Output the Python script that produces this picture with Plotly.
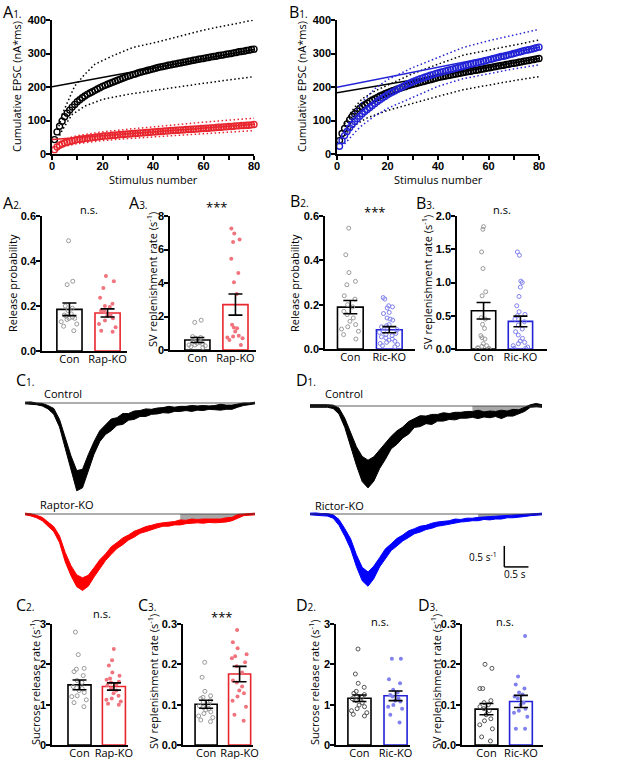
import plotly.graph_objects as go

W, H = 617, 759

# ---------------- A1 / B1 : cumulative EPSC ----------------
stim = list(range(1, 81))
fit_x = [0, 80]

a1_con = [43, 66, 83, 98, 111, 122, 131, 140, 148, 156, 162, 168, 173, 178, 182, 186, 190, 194, 198, 202,
          205, 208, 211, 214, 217, 220, 223, 226, 229, 232, 234, 237, 239, 242, 244, 246, 248, 250, 252, 254,
          256, 258, 260, 261, 263, 265, 266, 268, 269, 271, 272, 274, 275, 277, 278, 280, 281, 283, 284, 285,
          287, 288, 290, 291, 292, 294, 295, 296, 298, 299, 300, 302, 303, 305, 306, 307, 309, 310, 312, 313]
a1_rap = [13, 21, 26, 30, 33, 35, 37, 39, 41, 43, 44, 45, 46, 47, 48, 49, 50, 51, 52, 53,
          54, 54, 55, 56, 56, 57, 58, 58, 59, 60, 60, 61, 61, 62, 63, 63, 64, 64, 65, 66,
          66, 67, 67, 68, 69, 69, 70, 70, 71, 71, 72, 72, 73, 73, 74, 74, 75, 75, 76, 76,
          77, 77, 78, 78, 79, 80, 80, 81, 81, 82, 82, 83, 84, 84, 85, 85, 86, 86, 87, 88]
a1_con_fit = [201, 312]
a1_rap_fit = [43, 89]
a1_con_hi_x = [2, 3, 4, 6, 9, 13, 17, 24, 32, 41, 48, 60, 70, 80]
a1_con_hi = [72, 88, 118, 153, 203, 238, 268, 293, 318, 333, 346, 370, 385, 400]
a1_con_lo_x = [3, 4, 6, 8, 13, 20, 30, 40, 48, 60, 70, 80]
a1_con_lo = [55, 70, 95, 118, 143, 163, 178, 190, 198, 211, 221, 231]
a1_rap_ci_x = [3, 5, 10, 20, 30, 40, 50, 60, 70, 80]
a1_rap_hi = [36, 44, 55, 66, 74, 82, 88, 95, 101, 107]
a1_rap_lo = [18, 23, 31, 40, 46, 51, 56, 61, 66, 70]

b1_con = [40, 61, 76, 90, 102, 112, 120, 128, 136, 142, 147, 152, 157, 161, 165, 169, 173, 176, 180, 183,
          186, 189, 191, 194, 196, 199, 201, 204, 206, 208, 210, 212, 214, 216, 218, 220, 222, 224, 226, 228,
          230, 231, 233, 234, 236, 237, 239, 240, 242, 243, 245, 246, 247, 249, 250, 251, 253, 254, 256, 257,
          258, 260, 261, 263, 264, 265, 267, 268, 270, 271, 272, 274, 275, 277, 278, 279, 281, 282, 284, 285]
b1_ric = [23, 40, 55, 67, 78, 88, 97, 105, 113, 120, 127, 133, 139, 145, 151, 157, 162, 167, 172, 177,
          181, 185, 189, 193, 197, 201, 205, 209, 212, 216, 219, 222, 225, 227, 230, 232, 235, 237, 240, 242,
          244, 246, 248, 250, 252, 254, 256, 258, 260, 262, 264, 266, 268, 270, 272, 273, 275, 277, 279, 281,
          283, 285, 287, 289, 291, 292, 294, 296, 298, 300, 302, 304, 306, 308, 310, 311, 313, 315, 317, 319]
b1_con_fit = [183, 285]
b1_ric_fit = [199, 319]
b1_con_hi_x = [3, 5, 7, 10, 15, 20, 30, 40, 50, 60, 70, 80]
b1_con_hi = [90, 118, 140, 165, 188, 205, 240, 268, 295, 310, 326, 340]
b1_con_lo_x = [3, 5, 8, 12, 20, 30, 40, 50, 60, 70, 80]
b1_con_lo = [55, 72, 90, 108, 130, 152, 172, 192, 206, 219, 231]
b1_ric_ci_x = [3, 5, 8, 10, 15, 20, 30, 40, 50, 60, 70, 80]
b1_ric_hi = [70, 100, 135, 155, 195, 222, 258, 288, 318, 338, 356, 372]
b1_ric_lo = [30, 48, 72, 86, 114, 136, 168, 202, 225, 240, 254, 266]

# ---------------- bar panels ----------------
a2_con = [0.49, 0.31, 0.295, 0.2, 0.19, 0.18, 0.165, 0.16, 0.155, 0.15, 0.145, 0.145, 0.14, 0.13, 0.12, 0.11, 0.09]
a2_ko = [0.333, 0.31, 0.28, 0.237, 0.21, 0.2, 0.195, 0.18, 0.175, 0.16, 0.155, 0.145, 0.135, 0.12, 0.105, 0.09, 0.085]
a2_mean = [0.185, 0.169]
a2_sem = [0.028, 0.018]

a3_con = [1.78, 1.65, 0.8, 0.75, 0.7, 0.6, 0.55, 0.5, 0.45, 0.4, 0.35, 0.3, 0.3, 0.25, 0.2, 0.15]
a3_ko = [7.25, 6.95, 6.6, 6.45, 5.45, 4.6, 4.05, 3.35, 1.5, 1.35, 1.3, 1.1, 0.85, 0.8, 0.75, 0.7, 0.6, 0.3]
a3_mean = [0.6, 2.71]
a3_sem = [0.15, 0.63]

b2_con = [0.545, 0.425, 0.345, 0.305, 0.29, 0.24, 0.225, 0.2, 0.19, 0.17, 0.155, 0.14, 0.125, 0.11, 0.1,
          0.09, 0.08, 0.065, 0.045]
b2_ko = [0.232, 0.225, 0.195, 0.19, 0.185, 0.165, 0.16, 0.14, 0.135, 0.13, 0.11, 0.105, 0.1, 0.095, 0.087,
         0.08, 0.075, 0.07, 0.065, 0.06, 0.055, 0.05, 0.045, 0.04, 0.035, 0.03, 0.025, 0.02, 0.015, 0.01]
b2_mean = [0.189, 0.087]
b2_sem = [0.03, 0.014]

b3_con = [1.84, 1.8, 1.46, 1.21, 0.86, 0.8, 0.47, 0.45, 0.37, 0.31, 0.2, 0.17, 0.15, 0.08, 0.05, 0.04, 0.02,
          0.01, 0.01, 0.0]
b3_ko = [1.46, 1.41, 1.02, 1.0, 0.93, 0.79, 0.65, 0.56, 0.52, 0.5, 0.45, 0.41, 0.36, 0.3, 0.26, 0.21, 0.16,
         0.12, 0.1, 0.08, 0.05, 0.03, 0.01, 0.01]
b3_mean = [0.575, 0.415]
b3_sem = [0.125, 0.08]

c2_con = [2.8, 2.24, 1.9, 1.88, 1.82, 1.72, 1.6, 1.55, 1.45, 1.42, 1.4, 1.35, 1.3, 1.22, 1.2, 1.12, 1.05, 0.95]
c2_ko = [2.38, 2.1, 1.97, 1.8, 1.72, 1.65, 1.62, 1.57, 1.55, 1.5, 1.48, 1.4, 1.35, 1.28, 1.22, 1.15, 1.12,
         1.08, 1.02, 1.0]
c2_mean = [1.49, 1.45]
c2_sem = [0.12, 0.09]

c3_con = [0.205, 0.168, 0.133, 0.122, 0.118, 0.115, 0.11, 0.107, 0.1, 0.097, 0.093, 0.09, 0.087, 0.082,
          0.078, 0.072, 0.068, 0.062, 0.058]
c3_ko = [0.285, 0.255, 0.24, 0.225, 0.22, 0.215, 0.205, 0.195, 0.18, 0.16, 0.155, 0.145, 0.135, 0.128,
         0.12, 0.11, 0.095, 0.075, 0.06]
c3_mean = [0.101, 0.176]
c3_sem = [0.01, 0.019]

d2_con = [2.38, 1.76, 1.53, 1.43, 1.33, 1.28, 1.25, 1.22, 1.18, 1.15, 1.1, 1.05, 0.99, 0.95, 0.9, 0.85,
          0.8, 0.76, 0.72]
d2_ko = [2.14, 2.14, 1.63, 1.53, 1.37, 1.3, 1.24, 1.2, 1.16, 1.1, 1.08, 0.99, 0.95, 0.9, 0.75, 0.56]
d2_mean = [1.16, 1.22]
d2_sem = [0.08, 0.12]

d3_con = [0.2, 0.19, 0.14, 0.14, 0.11, 0.105, 0.1, 0.095, 0.09, 0.085, 0.075, 0.065, 0.06, 0.05, 0.04,
          0.02, 0.01]
d3_ko = [0.27, 0.17, 0.15, 0.14, 0.13, 0.125, 0.12, 0.115, 0.105, 0.1, 0.09, 0.085, 0.08, 0.07, 0.04, 0.04]
d3_mean = [0.089, 0.108]
d3_sem = [0.014, 0.015]

# ---------------- sucrose traces (s^-1, depth below baseline) ----------------
t = [round(i * 0.12, 2) for i in range(41)]
cc_mean = [0, 0, 0.02, 0.04, 0.10, 0.20, 0.48, 0.95, 1.43, 1.85, 1.80, 1.43, 1.07, 0.79, 0.63, 0.52, 0.44,
           0.38, 0.33, 0.29, 0.25, 0.23, 0.21, 0.19, 0.17, 0.16, 0.15, 0.14, 0.13, 0.13, 0.12, 0.12, 0.11,
           0.11, 0.10, 0.10, 0.10, 0.06, 0.03, 0.02, 0]
cc_noise = [0.02, 0.025, 0.02, 0.03, 0.04, 0.07, 0.09, 0.13, 0.17, 0.24, 0.22, 0.20, 0.15, 0.13, 0.12, 0.14,
            0.09, 0.13, 0.08, 0.10, 0.07, 0.09, 0.06, 0.07, 0.06, 0.08, 0.05, 0.06, 0.05, 0.07, 0.05, 0.06,
            0.04, 0.05, 0.07, 0.05, 0.05, 0.04, 0.03, 0.02, 0.02]
cr_mean = [0, 0.02, 0.06, 0.12, 0.24, 0.36, 0.60, 1.03, 1.35, 1.59, 1.67, 1.59, 1.39, 1.19, 1.03, 0.87, 0.75,
           0.65, 0.56, 0.48, 0.41, 0.36, 0.32, 0.28, 0.25, 0.24, 0.22, 0.20, 0.19, 0.17, 0.17, 0.17, 0.16,
           0.16, 0.16, 0.14, 0.12, 0.05, 0.02, 0.01, 0]
cr_noise = [0.02, 0.025, 0.03, 0.04, 0.05, 0.06, 0.08, 0.11, 0.12, 0.14, 0.15, 0.13, 0.11, 0.10, 0.08, 0.09,
            0.07, 0.08, 0.06, 0.07, 0.05, 0.06, 0.05, 0.05, 0.04, 0.05, 0.04, 0.06, 0.04, 0.05, 0.04, 0.05,
            0.04, 0.05, 0.04, 0.05, 0.04, 0.04, 0.02, 0.02, 0.02]
dc_mean = [0, 0, 0, 0, 0.02, 0.12, 0.40, 0.79, 1.19, 1.50, 1.62, 1.50, 1.27, 1.07, 0.87, 0.75, 0.63, 0.52,
           0.40, 0.36, 0.33, 0.32, 0.28, 0.26, 0.25, 0.24, 0.22, 0.21, 0.20, 0.20, 0.20, 0.20, 0.19, 0.20,
           0.18, 0.16, 0.14, 0.08, 0, -0.02, 0]
dc_noise = [0.03, 0.035, 0.03, 0.03, 0.04, 0.07, 0.11, 0.18, 0.22, 0.30, 0.33, 0.29, 0.22, 0.20, 0.15, 0.16,
            0.13, 0.15, 0.11, 0.13, 0.09, 0.12, 0.08, 0.10, 0.07, 0.09, 0.07, 0.08, 0.07, 0.10, 0.06, 0.08,
            0.06, 0.10, 0.06, 0.08, 0.05, 0.05, 0.03, 0.04, 0.03]
dr_mean = [0, 0, 0.01, 0.02, 0.06, 0.20, 0.44, 0.71, 1.11, 1.43, 1.55, 1.39, 1.15, 0.95, 0.79, 0.67, 0.57,
           0.48, 0.41, 0.36, 0.32, 0.28, 0.24, 0.22, 0.20, 0.17, 0.16, 0.14, 0.13, 0.12, 0.10, 0.10, 0.09,
           0.08, 0.06, 0.06, 0.05, 0.03, 0.02, 0.01, 0]
dr_noise = [0.02, 0.025, 0.02, 0.03, 0.04, 0.07, 0.09, 0.12, 0.14, 0.16, 0.17, 0.15, 0.11, 0.12, 0.08, 0.09,
            0.07, 0.08, 0.06, 0.07, 0.05, 0.06, 0.05, 0.05, 0.04, 0.05, 0.03, 0.04, 0.03, 0.04, 0.03, 0.04,
            0.03, 0.04, 0.03, 0.03, 0.03, 0.03, 0.02, 0.02, 0.02]

RED = "#e8262e"
RED_PT = "#f0737d"
BLUE = "#2323d6"
BLUE_PT = "#8080ee"
GRAY_PT = "#9a9a9a"

fig = go.Figure()
annotations = []
shapes = []

bold_tick = dict(family="Liberation Sans", size=11, color="black", weight="bold")
num_axis = dict(showline=True, linecolor="black", linewidth=1.5, ticks="outside", ticklen=4, tickwidth=1.5,
                tickcolor="black", showgrid=False, zeroline=False, tickfont=bold_tick, fixedrange=True,
                ticklabeloverflow="allow", automargin=False)
cat_axis = dict(showline=True, linecolor="black", linewidth=1.5, ticks="", showgrid=False, zeroline=False,
                type="category", tickfont=dict(family="Open Sans", size=11, color="black"), fixedrange=True,
                ticklabeloverflow="allow", automargin=False, ticklabelstandoff=-3)
hidden = dict(visible=False, fixedrange=True)
dotted = "1.5px,2.5px"


def names(n):
    s = "" if n == 1 else str(n)
    return "xaxis" + s, "yaxis" + s, "x" + s, "y" + s


def set_axes(n, xpx, ypx, xrange, yrange, xstyle, ystyle):
    xa, ya, xr, yr = names(n)
    fig.update_layout({
        xa: dict(domain=[xpx[0] / W, xpx[1] / W], range=xrange, anchor=yr, **xstyle),
        ya: dict(domain=[1 - ypx[1] / H, 1 - ypx[0] / H], range=yrange, anchor=xr, **ystyle),
    })


def text(s, xpx, ypx, size=11, xanchor="center", angle=0, family="Open Sans"):
    annotations.append(dict(text=s, x=xpx / W, y=1 - ypx / H, xref="paper", yref="paper", showarrow=False,
                            xanchor=xanchor, yanchor="middle", textangle=angle,
                            font=dict(family=family, size=size, color="black")))


def panel(letter, num, xpx, ypx):
    text(f"{letter}<span style='font-size:10px'>{num}.</span>", xpx, ypx, size=16, xanchor="left")


# ---- cumulative plots ----
def cumulative(n, xpx, groups):
    set_axes(n, xpx, (20, 154), [0, 80], [0, 400],
             dict(num_axis, dtick=20, ticklabelstandoff=-3,
                  minor=dict(dtick=10, ticks="outside", ticklen=4, tickwidth=1.5, tickcolor="black")),
             dict(num_axis, dtick=100, ticklabelstandoff=-2))
    _, _, xr, yr = names(n)
    for vals, fit, hx, hi, lx, lo, col in groups:
        fig.add_trace(go.Scatter(x=hx, y=hi, mode="lines", line=dict(color=col, width=1.5, dash=dotted),
                                 xaxis=xr, yaxis=yr, hoverinfo="skip"))
        fig.add_trace(go.Scatter(x=lx, y=lo, mode="lines", line=dict(color=col, width=1.5, dash=dotted),
                                 xaxis=xr, yaxis=yr, hoverinfo="skip"))
        fig.add_trace(go.Scatter(x=fit_x, y=fit, mode="lines", line=dict(color=col, width=1.5),
                                 xaxis=xr, yaxis=yr, hoverinfo="skip"))
        fig.add_trace(go.Scatter(x=stim, y=vals, mode="markers", cliponaxis=False,
                                 marker=dict(symbol="circle-open", size=6, color=col, line=dict(width=1.4)),
                                 xaxis=xr, yaxis=yr))


cumulative(1, (52, 254), [
    (a1_con, a1_con_fit, a1_con_hi_x, a1_con_hi, a1_con_lo_x, a1_con_lo, "black"),
    (a1_rap, a1_rap_fit, a1_rap_ci_x, a1_rap_hi, a1_rap_ci_x, a1_rap_lo, RED),
])
cumulative(2, (337, 539), [
    (b1_con, b1_con_fit, b1_con_hi_x, b1_con_hi, b1_con_lo_x, b1_con_lo, "black"),
    (b1_ric, b1_ric_fit, b1_ric_ci_x, b1_ric_hi, b1_ric_ci_x, b1_ric_lo, BLUE),
])
text("Cumulative EPSC (nA*ms)", 16, 87, angle=-90)
text("Stimulus number", 153, 180)
text("Cumulative EPSC (nA*ms)", 301, 87, angle=-90)
text("Stimulus number", 438, 180)


# ---- bar + scatter panels ----
def bar_panel(n, xpx, xrange, ypx, ymax, dtick, fmt, cats, con, ko, mean, sem, ko_col, ko_pt, ko_open,
              con_pt=GRAY_PT, bw=0.66):
    set_axes(n, xpx, ypx, xrange, [0, ymax], dict(cat_axis),
             dict(num_axis, dtick=dtick, tickformat=fmt, ticklabelstandoff=-2))
    _, _, xr, yr = names(n)
    fig.add_trace(go.Bar(x=cats, y=mean, width=bw, marker=dict(color="white",
                         line=dict(color=["black", ko_col], width=1.6)), xaxis=xr, yaxis=yr, hoverinfo="skip"))
    for cat, pts, col, open_ in ((cats[0], con, con_pt, True), (cats[1], ko, ko_pt, ko_open)):
        fig.add_trace(go.Box(x=[cat] * len(pts), y=pts, boxpoints="all", jitter=1, pointpos=0, width=0.55,
                             fillcolor="rgba(0,0,0,0)", line=dict(color="rgba(0,0,0,0)", width=0),
                             marker=dict(symbol="circle-open" if open_ else "circle", size=4, color=col,
                                         line=dict(width=1 if open_ else 0, color=col)),
                             xaxis=xr, yaxis=yr, hoverinfo="skip"))
    fig.add_trace(go.Scatter(x=cats, y=mean, mode="markers", marker=dict(size=1, color="rgba(0,0,0,0)"),
                             error_y=dict(type="data", array=sem, color="black", thickness=1.6, width=7),
                             xaxis=xr, yaxis=yr, hoverinfo="skip"))


rap = ["Con", "Rap-KO"]
ric = ["Con", "Ric-KO"]
bar_panel(3, (42, 127), [-0.72, 1.51], (216, 351), 0.6, 0.2, ".1f", rap, a2_con, a2_ko, a2_mean, a2_sem,
          RED, RED_PT, False)
bar_panel(4, (170, 256), [-0.72, 1.54], (216, 350), 8, 2, None, rap, a3_con, a3_ko, a3_mean, a3_sem,
          RED, RED_PT, False)
bar_panel(5, (325, 415), [-0.65, 1.66], (216, 349), 0.6, 0.2, ".1f", ric, b2_con, b2_ko, b2_mean, b2_sem,
          BLUE, BLUE_PT, True)
bar_panel(6, (457, 547), [-0.72, 1.72], (216, 349), 2.0, 0.5, ".1f", ric, b3_con, b3_ko, b3_mean, b3_sem,
          BLUE, BLUE_PT, True)
bar_panel(7, (52, 128), [-0.80, 1.41], (624, 745), 3, 1, None, rap, c2_con, c2_ko, c2_mean, c2_sem,
          RED, RED_PT, False, bw=0.67)
bar_panel(8, (183, 253), [-0.69, 1.40], (624, 745), 0.3, 0.1, ".1f", rap, c3_con, c3_ko, c3_mean, c3_sem,
          RED, RED_PT, False, bw=0.66)
bar_panel(9, (336, 410), [-0.65, 1.40], (624, 745), 3, 1, None, ric, d2_con, d2_ko, d2_mean, d2_sem,
          BLUE, BLUE_PT, False, con_pt="#555555", bw=0.64)
bar_panel(10, (462, 543), [-0.71, 1.64], (624, 745), 0.3, 0.1, ".1f", ric, d3_con, d3_ko, d3_mean, d3_sem,
          BLUE, BLUE_PT, False, con_pt="#555555", bw=0.66)

rate = "SV replenishment rate (s<sup>-1</sup>)"
suc = "Sucrose release rate (s<sup>-1</sup>)"
text("Release probability", 13, 283, angle=-90)
text(rate, 152, 280, angle=-90)
text("Release probability", 295, 283, angle=-90)
text(rate, 427, 283, angle=-90)
text(suc, 35, 682, angle=-90)
text(rate, 153, 682, angle=-90)
text(suc, 314, 682, angle=-90)
text(rate, 436, 682, angle=-90)

text("n.s.", 89, 209)
text("***", 216, 207, size=13)
text("***", 374, 212, size=13)
text("n.s.", 502, 209)
text("n.s.", 102, 613)
text("***", 221, 617, size=13)
text("n.s.", 380, 621)
text("n.s.", 505, 621)


# ---- sucrose traces ----
def trace_panel(n, xpx, base_px, ypx, mean, noise, col, window=None):
    yr_ = [-(ypx[1] - base_px) / 42, (base_px - ypx[0]) / 42]
    set_axes(n, xpx, ypx, [0, 4.8], yr_, hidden, hidden)
    _, _, xr, yr = names(n)
    hi = [-m + s for m, s in zip(mean, noise)]
    lo = [-m - s for m, s in zip(mean, noise)]
    if window:
        idx = [i for i, tt in enumerate(t) if window[0] <= tt <= window[1]]
        fig.add_trace(go.Scatter(x=[t[i] for i in idx], y=[hi[i] for i in idx], mode="lines", fill="tozeroy",
                                 fillcolor="#a8a8a8", line=dict(width=0), xaxis=xr, yaxis=yr, hoverinfo="skip"))
    fig.add_trace(go.Scatter(x=t, y=hi, mode="lines", line=dict(color=col, width=1), xaxis=xr, yaxis=yr,
                             hoverinfo="skip"))
    fig.add_trace(go.Scatter(x=t, y=lo, mode="lines", line=dict(color=col, width=1), fill="tonexty",
                             fillcolor=col, xaxis=xr, yaxis=yr, hoverinfo="skip"))
    shapes.append(dict(type="line", xref=xr, yref=yr, x0=t[0], x1=t[-1], y0=0, y1=0,
                       line=dict(color="#333333", width=0.8)))


trace_panel(11, (25, 255), 403, (385, 500), cc_mean, cc_noise, "black")
trace_panel(12, (25, 255), 514, (505, 596), cr_mean, cr_noise, "#ff0000", window=(3.2, 4.45))
trace_panel(13, (310, 542), 406, (390, 500), dc_mean, dc_noise, "black", window=(3.25, 4.5))
trace_panel(14, (310, 542), 514, (505, 596), dr_mean, dr_noise, "#0000ff", window=(3.4, 4.8))

# scale bar: 0.5 s by 0.5 s^-1
shapes.append(dict(type="line", xref="x14", yref="y14", x0=4.02, x1=4.02, y0=-0.76, y1=-1.26,
                   line=dict(color="black", width=1.5)))
shapes.append(dict(type="line", xref="x14", yref="y14", x0=4.02, x1=4.52, y0=-1.26, y1=-1.26,
                   line=dict(color="black", width=1.5)))
text("0.5 s<sup>-1</sup>", 499, 557, size=10, xanchor="right")
text("0.5 s", 515, 574, size=10)

text("Control", 42, 393, xanchor="left")
text("Raptor-KO", 38, 504, xanchor="left")
text("Control", 323, 393, xanchor="left")
text("Rictor-KO", 313, 505, xanchor="left")

# panel labels
panel("A", 1, 1, 12)
panel("B", 1, 287, 12)
panel("A", 2, 1, 203)
panel("A", 3, 127, 203)
panel("B", 2, 288, 201)
panel("B", 3, 414, 203)
panel("C", 1, 14, 380)
panel("D", 1, 294, 380)
panel("C", 2, 14, 605)
panel("C", 3, 136, 605)
panel("D", 2, 294, 605)
panel("D", 3, 416, 605)

fig.update_layout(width=W, height=H, margin=dict(l=0, r=0, t=0, b=0), showlegend=False,
                  paper_bgcolor="white", plot_bgcolor="white", boxmode="overlay",
                  annotations=annotations, shapes=shapes)

fig.write_html("out.html", config={"displayModeBar": False},
               post_script="document.body.style.margin='0px';")
